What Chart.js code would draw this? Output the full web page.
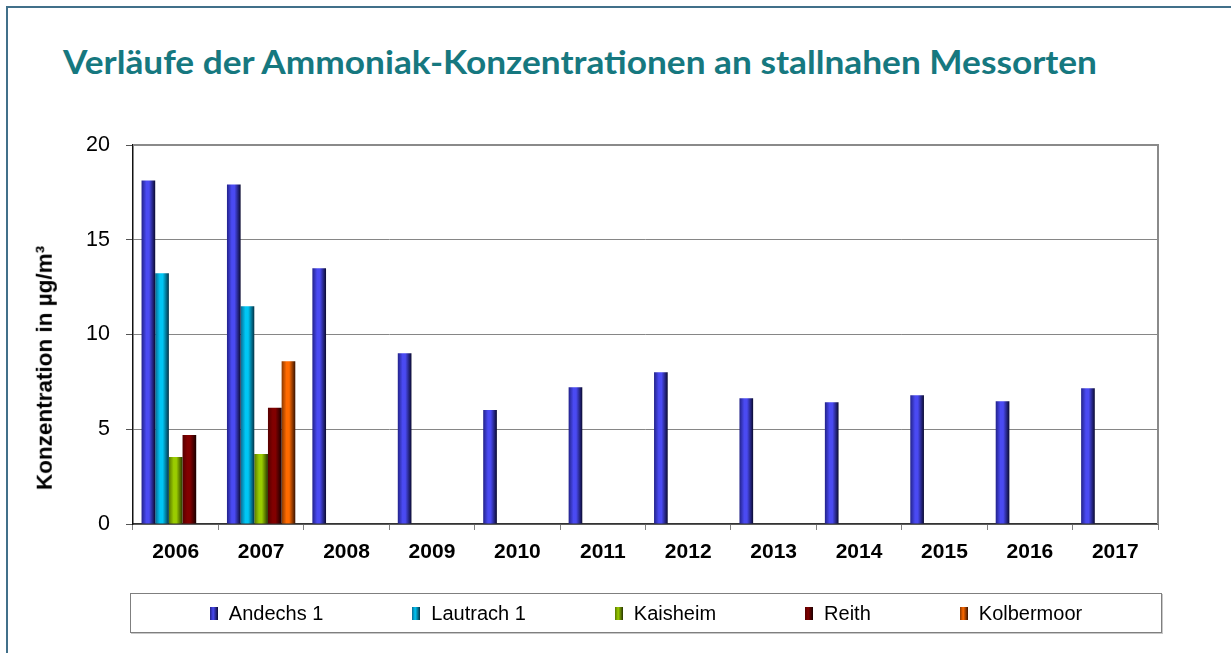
<!DOCTYPE html>
<html lang="de">
<head>
<meta charset="utf-8">
<title>Ammoniak-Konzentrationen</title>
<script src="https://cdn.jsdelivr.net/npm/chart.js@4.4.1/dist/chart.umd.min.js"></script>
<style>
    html, body { margin: 0; padding: 0; background: #fff; overflow: hidden; }
    body { width: 1231px; height: 653px; position: relative; }
    .frame {
        position: absolute; left: 6px; top: 6px; width: 1300px; height: 700px;
        border-left: 2px solid #41708a; border-top: 2px solid #41708a;
    }
    #title {
        position: absolute; left: 63px; top: 46px; margin: 0;
        font: bold 32px Lato, "Open Sans", sans-serif; line-height: 32px;
        color: #16787f; white-space: nowrap; transform-origin: left top;
    }
    #y-title {
        position: absolute; left: 45px; top: 368px; white-space: nowrap;
        font: bold 22.5px "Liberation Sans", Arial, sans-serif; line-height: 22.5px; color: #000;
        transform: translate(-50%, -50%) rotate(-90deg);
    }
    .chart-box { position: absolute; left: 0; top: 0; width: 1231px; height: 653px; }
    #legend {
        position: absolute; left: 130px; top: 593px; width: 1030px; height: 38px;
        border: 1px solid #7f7f7f; box-shadow: 1px 1px 0 #c8c8c8;
        display: flex; align-items: center; justify-content: center; gap: 89px;
        font: 20px "Liberation Sans", Arial, sans-serif; color: #000;
    }
    #legend .item { display: flex; align-items: center; }
    #legend .swatch { width: 8px; height: 13px; margin-right: 11px; }
</style>
</head>
<body>
<div class="frame"></div>
<h1 id="title">Verläufe der Ammoniak-Konzentrationen an stallnahen Messorten</h1>
<div class="chart-box"><canvas id="ammoniak-chart"></canvas></div>
<div id="y-title">Konzentration in µg/m³</div>
<div id="legend"></div>

<script>
const years = ['2006', '2007', '2008', '2009', '2010', '2011', '2012', '2013', '2014', '2015', '2016', '2017'];
const seriesNames = ['Andechs 1', 'Lautrach 1', 'Kaisheim', 'Reith', 'Kolbermoor'];
const andechs = [18.13, 17.92, 13.49, 9.01, 6.01, 7.22, 8.01, 6.64, 6.43, 6.80, 6.48, 7.17];
const lautrach = [13.23, 11.49, null, null, null, null, null, null, null, null, null, null];
const kaisheim = [3.53, 3.69, null, null, null, null, null, null, null, null, null, null];
const reith = [4.69, 6.13, null, null, null, null, null, null, null, null, null, null];
const kolbermoor = [null, 8.59, null, null, null, null, null, null, null, null, null, null];
const yTicks = [0, 5, 10, 15, 20];

// left edge, highlight, right edge of the shaded bars
const shades = [
    ['#22228a', '#4a4af2', '#0a0a30'],
    ['#0a6a92', '#00c6f4', '#033246'],
    ['#587800', '#9acc00', '#263400'],
    ['#560000', '#820000', '#180000'],
    ['#8a3800', '#ff6a00', '#381200']
];

function barShade(context, s) {
    const el = context.element;
    if (!el || el.x === undefined || !el.width) return s[1];
    const g = context.chart.ctx.createLinearGradient(el.x - el.width / 2, 0, el.x + el.width / 2, 0);
    g.addColorStop(0, s[0]);
    g.addColorStop(0.35, s[1]);
    g.addColorStop(0.55, s[1]);
    g.addColorStop(1, s[2]);
    return g;
}

// grey plot-area edge on top and right, like the spreadsheet chart
const plotEdge = {
    id: 'plotEdge',
    beforeDatasetsDraw(chart) {
        const { ctx, chartArea: a } = chart;
        ctx.save();
        ctx.strokeStyle = '#8a8a8a';
        ctx.lineWidth = 2;
        ctx.beginPath();
        ctx.moveTo(a.left, a.top);
        ctx.lineTo(a.right, a.top);
        ctx.lineTo(a.right, a.bottom);
        ctx.stroke();
        ctx.restore();
    }
};

const values = [andechs, lautrach, kaisheim, reith, kolbermoor];

const chart = new Chart(document.getElementById('ammoniak-chart').getContext('2d'), {
    type: 'bar',
    data: {
        labels: years,
        datasets: values.map((v, i) => ({
            label: seriesNames[i],
            data: v,
            backgroundColor: ctx => barShade(ctx, shades[i]),
            borderWidth: 0,
            categoryPercentage: 0.8,
            barPercentage: 1.0
        }))
    },
    options: {
        responsive: true,
        maintainAspectRatio: false,
        animation: false,
        layout: { padding: { left: 28, right: 73, top: 145, bottom: 79 } },
        scales: {
            x: {
                grid: { drawOnChartArea: false, tickLength: 6, color: '#808080', tickColor: '#808080' },
                border: { color: '#333', width: 1.5 },
                ticks: { color: '#000', padding: 10, font: { family: '"Liberation Sans", Arial', size: 21, weight: 'bold' } },
                afterFit: scale => { scale.height = 50; }
            },
            y: {
                min: 0,
                max: 20,
                afterBuildTicks: scale => { scale.ticks = yTicks.map(v => ({ value: v })); },
                grid: { color: '#868686', tickLength: 7, tickColor: '#555' },
                border: { color: '#111', width: 1.5 },
                ticks: { color: '#000', padding: 16, font: { family: '"Liberation Sans", Arial', size: 21.5 } },
                afterFit: scale => { scale.width = 105; }
            }
        },
        plugins: {
            legend: { display: false },
            tooltip: { enabled: false }
        }
    },
    plugins: [plotEdge]
});
chart.update();

// legend below the plot
const legend = document.getElementById('legend');
seriesNames.forEach((name, i) => {
    const s = shades[i];
    const item = document.createElement('span');
    item.className = 'item';
    item.innerHTML = '<span class="swatch" style="background: linear-gradient(to right, ' +
        s[0] + ' 0%, ' + s[1] + ' 40%, ' + s[2] + ' 100%)"></span><span>' + name + '</span>';
    legend.appendChild(item);
});

// squeeze the title to the width of the original heading
const title = document.getElementById('title');
const w = title.getBoundingClientRect().width;
title.style.transform = 'scaleX(' + (1034 / w) + ')';
</script>
</body>
</html>
